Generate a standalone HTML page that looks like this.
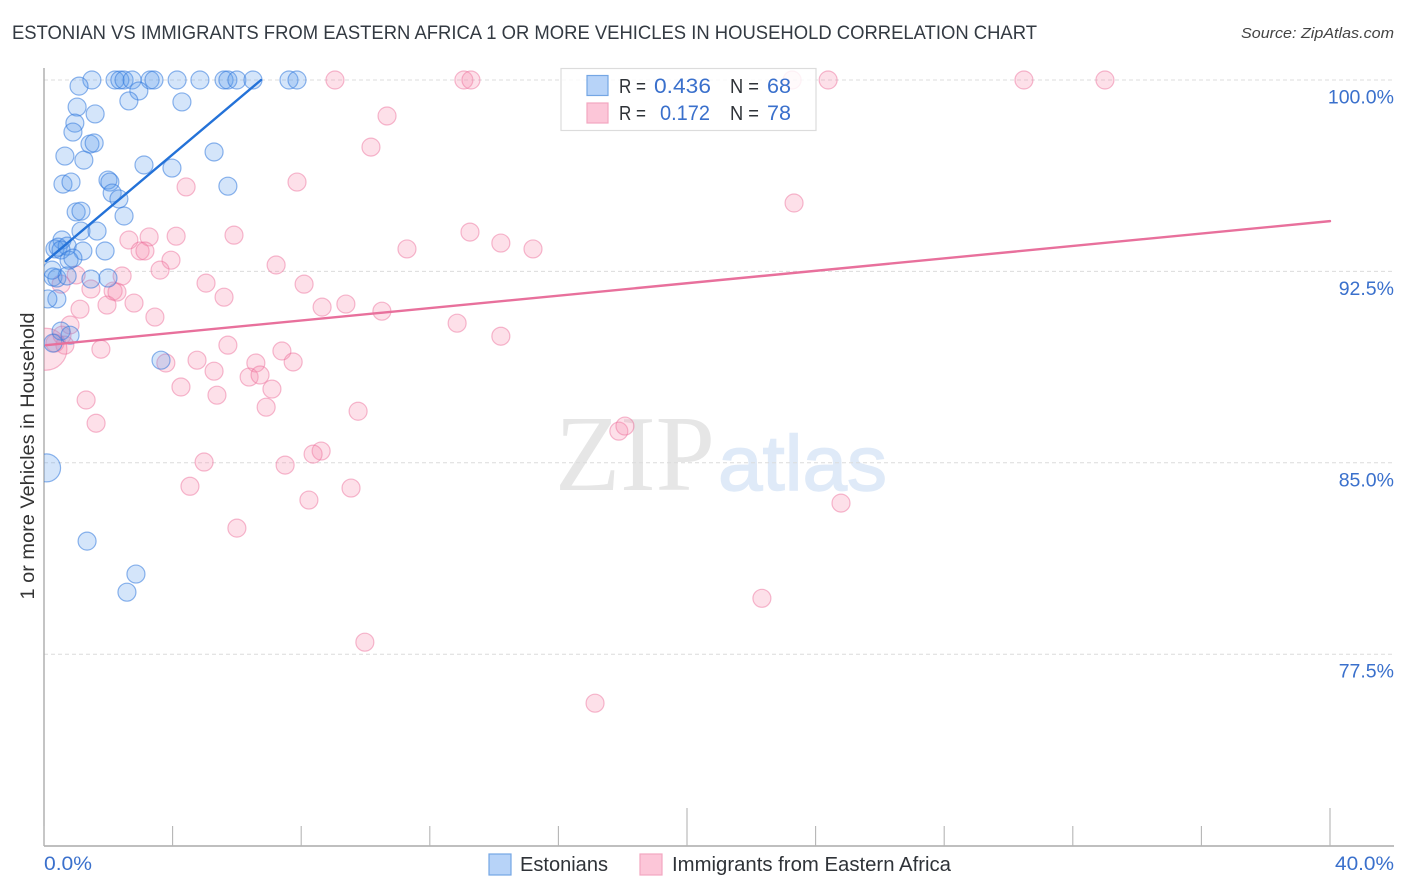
<!DOCTYPE html>
<html lang="en">
<head>
<meta charset="utf-8">
<title>Estonian vs Immigrants from Eastern Africa correlation chart</title>
<style>
html,body{margin:0;padding:0;background:#fff;width:1406px;height:892px;overflow:hidden}
svg{display:block;font-family:"Liberation Sans",sans-serif}
</style>
</head>
<body>
<svg id="chart" width="1406" height="892" viewBox="0 0 1406 892" xmlns="http://www.w3.org/2000/svg">
  <defs>
    <clipPath id="plot-clip"><rect x="44" y="60" width="1350" height="786"/></clipPath>
  </defs>
  <text x="12" y="39" font-size="19.5" fill="#333a42" textLength="1025" lengthAdjust="spacingAndGlyphs">ESTONIAN VS IMMIGRANTS FROM EASTERN AFRICA 1 OR MORE VEHICLES IN HOUSEHOLD CORRELATION CHART</text>
  <text x="1394" y="38" font-size="15" font-style="italic" fill="#444" text-anchor="end" textLength="153" lengthAdjust="spacingAndGlyphs">Source: ZipAtlas.com</text>

  <g>
    <text x="555" y="490" font-family="'Liberation Serif',serif" font-size="108" fill="#e6e6e6" textLength="160" lengthAdjust="spacingAndGlyphs">ZIP</text>
    <text x="718" y="490" font-size="78" fill="#dfeaf8" stroke="#dfeaf8" stroke-width="1.4" textLength="169" lengthAdjust="spacingAndGlyphs">atlas</text>
  </g>

  <g id="grid"></g>
  <g id="axes"></g>
  <g id="points" clip-path="url(#plot-clip)"></g>
  <g id="trends"></g>
  <g id="labels"></g>

  <text transform="translate(34 456) rotate(-90)" font-size="19" fill="#333" text-anchor="middle" textLength="287" lengthAdjust="spacingAndGlyphs">1 or more Vehicles in Household</text>

  <g>
    <rect x="561" y="68.5" width="255" height="62" fill="#fff" fill-opacity="0.82" stroke="#dcdcdc" stroke-width="1.2"/>
    <rect x="587" y="75.5" width="21" height="20" fill="#b7d3f8" stroke="#74a6e4" stroke-width="1.2"/>
    <rect x="587" y="103" width="21" height="20" fill="#fcc6d8" stroke="#f3a7c0" stroke-width="1.2"/>
    <g font-size="20" fill="#2f3338">
      <text x="619" y="93" textLength="27" lengthAdjust="spacingAndGlyphs">R =</text>
      <text x="730" y="93" textLength="29" lengthAdjust="spacingAndGlyphs">N =</text>
      <text x="619" y="120" textLength="27" lengthAdjust="spacingAndGlyphs">R =</text>
      <text x="730" y="120" textLength="29" lengthAdjust="spacingAndGlyphs">N =</text>
    </g>
    <g font-size="21" fill="#3a70cc">
      <text x="654" y="93" textLength="57" lengthAdjust="spacingAndGlyphs">0.436</text>
      <text x="767" y="93" textLength="24" lengthAdjust="spacingAndGlyphs">68</text>
      <text x="660" y="120" textLength="50" lengthAdjust="spacingAndGlyphs">0.172</text>
      <text x="767" y="120" textLength="24" lengthAdjust="spacingAndGlyphs">78</text>
    </g>
  </g>

  <g>
    <rect x="489" y="854" width="22" height="21" fill="#b7d3f8" stroke="#74a6e4" stroke-width="1.2"/>
    <text x="520" y="871" font-size="20" fill="#2f3338" textLength="88" lengthAdjust="spacingAndGlyphs">Estonians</text>
    <rect x="640" y="854" width="22" height="21" fill="#fcc6d8" stroke="#f3a7c0" stroke-width="1.2"/>
    <text x="672" y="871" font-size="20" fill="#2f3338" textLength="279" lengthAdjust="spacingAndGlyphs">Immigrants from Eastern Africa</text>
  </g>
</svg>
<script>
const estonianX = [1.49,2.21,2.36,2.49,2.74,3.30,3.42,4.14,4.85,5.60,5.72,6.00,6.50,7.62,7.87,1.09,2.95,2.64,4.29,1.03,1.59,0.96,0.90,1.43,1.56,0.65,1.24,3.11,3.98,5.29,5.72,0.59,0.84,1.99,2.05,2.12,2.33,2.49,1.00,1.15,1.15,1.65,0.56,0.34,0.44,0.72,0.53,1.21,1.90,0.78,0.90,0.28,0.40,0.72,1.46,1.99,0.25,0.40,0.12,3.64,1.34,2.86,2.58,0.53,0.81,0.28];
const estonianY = [100,100,100,100,100,100,100,100,100,100,100,100,100,100,100,99.76,99.57,99.18,99.14,98.94,98.67,98.31,97.96,97.49,97.53,97.02,96.86,96.67,96.55,97.18,95.84,95.92,96.00,96.08,96.00,95.57,95.34,94.67,94.83,94.86,94.08,94.08,93.73,93.38,93.45,93.49,93.34,93.30,93.30,92.94,93.02,92.28,92.24,92.32,92.20,92.24,92.55,91.42,91.42,89.02,81.93,80.64,79.93,90.16,90.00,89.69];
const estonianLargeX = [0.08];
const estonianLargeY = [84.8];
const immigrantX = [9.05,13.06,13.28,23.27,24.39,30.48,33.00,10.67,10.17,7.87,4.42,23.33,5.91,13.25,14.21,15.21,11.29,2.64,3.27,4.11,2.99,3.14,3.95,3.61,7.22,2.43,1.00,5.04,8.09,1.46,2.15,2.27,5.60,2.80,1.96,1.12,3.45,8.65,9.39,10.51,12.85,14.21,0.81,0.53,0.56,0.65,0.34,1.77,5.72,4.76,7.40,7.75,6.59,3.79,5.29,6.38,6.72,4.26,7.09,5.38,1.31,6.91,9.77,1.62,17.88,18.07,8.62,8.37,4.98,7.50,4.54,9.55,8.24,24.79,6.00,22.33,9.98,17.14];
const immigrantY = [100,100,100,100,100,100,100,98.59,97.37,96.00,95.81,95.18,93.92,94.04,93.61,93.38,93.38,93.73,93.85,93.88,93.30,93.30,92.94,92.55,92.75,92.32,92.36,92.04,92.00,91.81,91.73,91.69,91.49,91.26,91.18,91.02,90.71,91.10,91.22,90.94,90.47,89.96,90.40,92.00,90.00,89.61,89.69,89.45,89.61,89.02,89.38,88.95,88.91,88.91,88.59,88.36,88.44,87.97,87.89,87.65,87.46,87.18,87.02,86.55,86.24,86.44,85.46,85.34,85.03,84.91,84.08,84.01,83.54,83.42,82.44,79.69,77.97,75.58];
const immigrantLargeX = [0.06];
const immigrantLargeY = [89.45];
const estonianTrendX = [0.06,6.75];
const estonianTrendY = [92.9,100];
const immigrantTrendX = [0.06,40];
const immigrantTrendY = [89.61,94.47];
const yTicks = [100,92.5,85,77.5];
const yTickLabels = ["100.0%","92.5%","85.0%","77.5%"];
const xTicks = [0,4,8,12,16,20,24,28,32,36,40];
const xMajorTicks = [20,40];
const xEndLabelValues = [0,40];
const xEndLabels = ["0.0%","40.0%"];

const SVGNS = "http://www.w3.org/2000/svg";
const xScale = v => 44 + (v - 0) * (1330 - 44) / 40;
const yScale = v => 80 + (100 - v) * (845.6 - 80) / 30;

function mk(parent, tag, attrs, text) {
  const el = document.createElementNS(SVGNS, tag);
  for (const k in attrs) el.setAttribute(k, attrs[k]);
  if (text !== undefined) el.textContent = text;
  document.getElementById(parent).appendChild(el);
  return el;
}

yTicks.forEach((t, i) => {
  const line = mk("grid", "line", {x1: 44, x2: 1394, y1: yScale(t), y2: yScale(t), stroke: "#dcdcdc", "stroke-width": 1, "stroke-dasharray": "4 3"});
  
  
  const lab = mk("labels", "text", {x: 1394, y: yScale(t) + 23.5, "text-anchor": "end", "font-size": 19.5, fill: "#3a70cc"}, yTickLabels[i]);
  
  
});

const yAxisLine = mk("axes", "line", {x1: 44, x2: 44, y1: 68, y2: 846, stroke: "#aaa", "stroke-width": 1.4});


const xAxisLine = mk("axes", "line", {x1: 44, x2: 1394, y1: 846, y2: 846, stroke: "#aaa", "stroke-width": 1.4});



xTicks.forEach(t => {
  const top = xMajorTicks.includes(t) ? 808 : 826;
  const tick = mk("axes", "line", {x1: xScale(t), x2: xScale(t), y1: top, y2: 846, stroke: "#b5b5b5", "stroke-width": 1.1});
  
  
});

xEndLabelValues.forEach((t, i) => {
  const isFirst = i === 0;
  const lab = mk("labels", "text", {x: isFirst ? xScale(t) : 1394, y: 870, "text-anchor": isFirst ? "start" : "end", "font-size": 19.5, fill: "#3a70cc", textLength: isFirst ? 48 : 59, lengthAdjust: "spacingAndGlyphs"}, xEndLabels[i]);
  
  
});

const blueStyle = {fill: "rgba(90,155,235,0.26)", stroke: "rgba(50,120,220,0.55)", "stroke-width": 1.2};
const pinkStyle = {fill: "rgba(248,140,175,0.27)", stroke: "rgba(236,110,155,0.48)", "stroke-width": 1.2};
const pointRadius = 9;

immigrantX.forEach((x, i) => {
  const c = mk("points", "circle", Object.assign({cx: xScale(x), cy: yScale(immigrantY[i]), r: pointRadius}, pinkStyle));
  
  
});
immigrantLargeX.forEach((x, i) => {
  const c = mk("points", "circle", Object.assign({cx: xScale(x), cy: yScale(immigrantLargeY[i]), r: 21}, pinkStyle));
  
  
});
estonianX.forEach((x, i) => {
  const c = mk("points", "circle", Object.assign({cx: xScale(x), cy: yScale(estonianY[i]), r: pointRadius}, blueStyle));
  
  
});
estonianLargeX.forEach((x, i) => {
  const c = mk("points", "circle", Object.assign({cx: xScale(x), cy: yScale(estonianLargeY[i]), r: 14}, blueStyle));
  
  
});

const blueTrend = mk("trends", "line", {x1: xScale(estonianTrendX[0]), y1: yScale(estonianTrendY[0]), x2: xScale(estonianTrendX[1]), y2: yScale(estonianTrendY[1]), stroke: "#2472d8", "stroke-width": 2.4, "stroke-linecap": "round"});


const pinkTrend = mk("trends", "line", {x1: xScale(immigrantTrendX[0]), y1: yScale(immigrantTrendY[0]), x2: xScale(immigrantTrendX[1]), y2: yScale(immigrantTrendY[1]), stroke: "#e8709c", "stroke-width": 2.4, "stroke-linecap": "round"});


</script>
</body>
</html>
